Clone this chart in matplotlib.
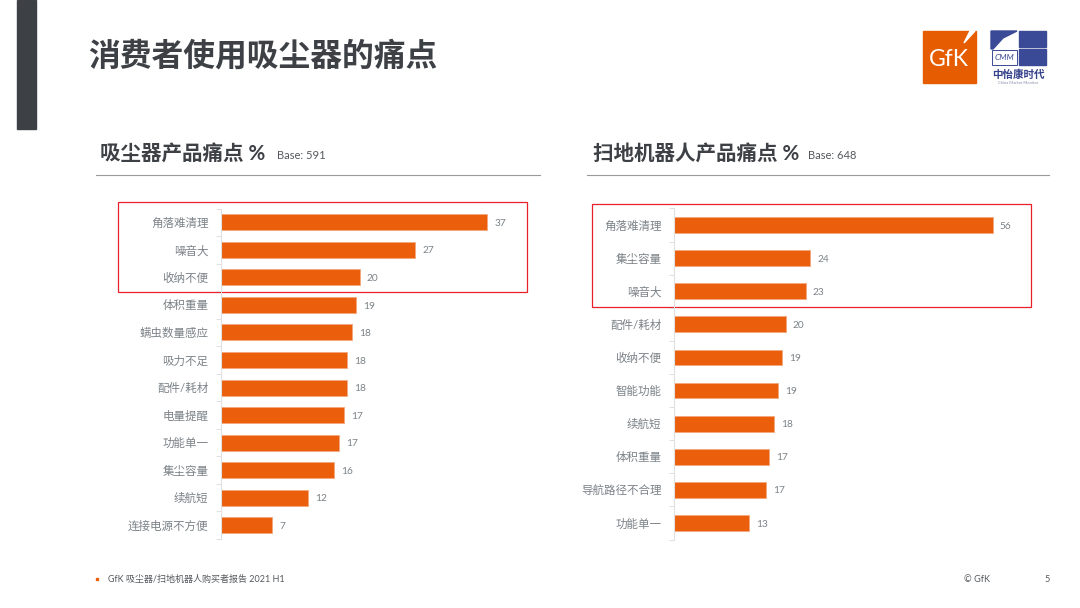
from matplotlib import pyplot as plt
from matplotlib.patches import Rectangle, Polygon

plt.rcParams['font.family'] = ['Lato', 'Noto Sans CJK SC', 'DejaVu Sans']

ORANGE = '#eb5f0c'
DARK = '#3d4145'
GRAY = '#7b8287'
W, H = 1080, 608


def draw_bars(box, labels, values, shown, xmax):
    plt.axes([box[0] / W, 1 - box[3] / H, (box[2] - box[0]) / W, (box[3] - box[1]) / H])
    y = list(range(len(labels)))
    plt.barh(y, values, height=0.58 if len(labels) == 12 else 0.48, left=0, color=ORANGE,
             edgecolor='#f4a77c', linewidth=0.6)
    for i in y:
        plt.annotate(str(shown[i]), (values[i], i), xytext=(5, -0.8), textcoords='offset points',
                     va='center', ha='left', fontsize=7.3, color=GRAY)
        plt.annotate(labels[i], (0, i), xytext=(-8.6, -0.7), textcoords='offset points',
                     va='center', ha='right', fontsize=8.3, color=GRAY)
    plt.xlim(0, xmax)
    plt.ylim(len(labels) - 0.5, -0.5)
    plt.xticks([])
    plt.yticks([i - 0.5 for i in y] + [len(labels) - 0.5], [''] * (len(labels) + 1))
    plt.tick_params(axis='y', length=3.5, width=0.7, color='#e0e0e0', direction='out')
    ax = plt.gca()
    ax.patch.set_alpha(0)
    for side in ['top', 'right', 'bottom']:
        ax.spines[side].set_visible(False)
    ax.spines['left'].set_color('#e0e0e0')
    ax.spines['left'].set_linewidth(0.8)


def draw_page():
    plt.axes([0, 0, 1, 1])
    plt.xlim(0, W)
    plt.ylim(H, 0)
    plt.axis('off')
    ax = plt.gca()
    ax.add_patch(Rectangle((17, 0), 19, 129, color=DARK))
    plt.text(88, 55, '消费者使用吸尘器的痛点', fontsize=22.9, fontweight='bold', color=DARK, va='center')

    # left and right headers
    plt.text(100, 154.5, '吸尘器产品痛点 %', fontsize=14.8, fontweight='bold', color=DARK, va='center')
    plt.text(277, 155.5, 'Base: 591', fontsize=8, color='#55595d', va='center')
    plt.text(593, 154.5, '扫地机器人产品痛点 %', fontsize=14.8, fontweight='bold', color=DARK, va='center')
    plt.text(808, 155.5, 'Base: 648', fontsize=8, color='#55595d', va='center')
    plt.plot([96, 540], [175, 175], color='#9a9a9a', lw=0.8)
    plt.plot([587, 1049], [175, 175], color='#9a9a9a', lw=0.8)

    # red highlight boxes
    ax.add_patch(Rectangle((118, 202), 408.5, 89.5, fill=False, edgecolor='#e8202a', lw=0.9, zorder=5))
    ax.add_patch(Rectangle((592, 204), 438.5, 103, fill=False, edgecolor='#e8202a', lw=0.9, zorder=5))

    # footer
    ax.add_patch(Rectangle((95.5, 577.5), 2.5, 2.5, color=ORANGE))
    plt.text(108, 579.5, 'GfK 吸尘器/扫地机器人购买者报告 2021 H1', fontsize=6.5, color='#55595d', va='center')
    plt.text(964, 579.5, '© GfK', fontsize=6.6, color='#55595d', va='center')
    plt.text(1044, 580, '5', fontsize=6.6, color='#55595d', va='center')

    # logos
    ax.add_patch(Rectangle((923, 31), 53, 52, color='#e65c00'))
    ax.add_patch(Polygon([(970, 31), (975, 31), (964, 43)], color='white'))
    plt.text(949, 59, 'GfK', fontsize=16.5, color='white', ha='center', va='center')
    ax.add_patch(Polygon([(991, 31), (1017, 31), (1003, 38), (993, 49), (991, 49)], color='#3b4a96'))
    ax.add_patch(Rectangle((1019, 31), 27, 16, color='#3b4a96'))
    ax.add_patch(Rectangle((1019, 49), 27, 16, color='#3b4a96'))
    ax.add_patch(Rectangle((991.5, 50), 25, 15, fill=False, edgecolor='#3b4a96', lw=0.7))
    plt.text(1004, 58, 'CMM', fontsize=6, style='italic', color='#3b4a96', ha='center', va='center')
    plt.text(1018, 74, '中怡康时代', fontsize=7.6, fontweight='bold', color='#35408a', ha='center', va='center')
    plt.text(1018, 83, 'China Market Monitor', fontsize=3, color='#8a8fa8', ha='center', va='center')


def main():
    labels = ['角落难清理', '噪音大', '收纳不便', '体积重量', '螨虫数量感应', '吸力不足',
              '配件/耗材', '电量提醒', '功能单一', '集尘容量', '续航短', '连接电源不方便']
    shown = [37, 27, 20, 19, 18, 18, 18, 17, 17, 16, 12, 7]
    values = [37, 27, 19.3, 18.8, 18.2, 17.6, 17.6, 17.1, 16.4, 15.7, 12.2, 7.2]
    labels1 = ['角落难清理', '集尘容量', '噪音大', '配件/耗材', '收纳不便', '智能功能',
               '续航短', '体积重量', '导航路径不合理', '功能单一']
    shown1 = [56, 24, 23, 20, 19, 19, 18, 17, 17, 13]
    values1 = [56, 24, 23.2, 19.7, 19, 18.4, 17.7, 16.7, 16.3, 13.3]

    plt.figure(figsize=(10.8, 6.08), dpi=100, facecolor='white')
    draw_page()
    draw_bars((220.5, 208.5, 530.5, 539), labels, values, shown, 43)
    draw_bars((673.5, 208.5, 1039.5, 539.5), labels1, values1, shown1, 64.2)
    plt.savefig('out.png', dpi=100)


if __name__ == '__main__':
    main()
